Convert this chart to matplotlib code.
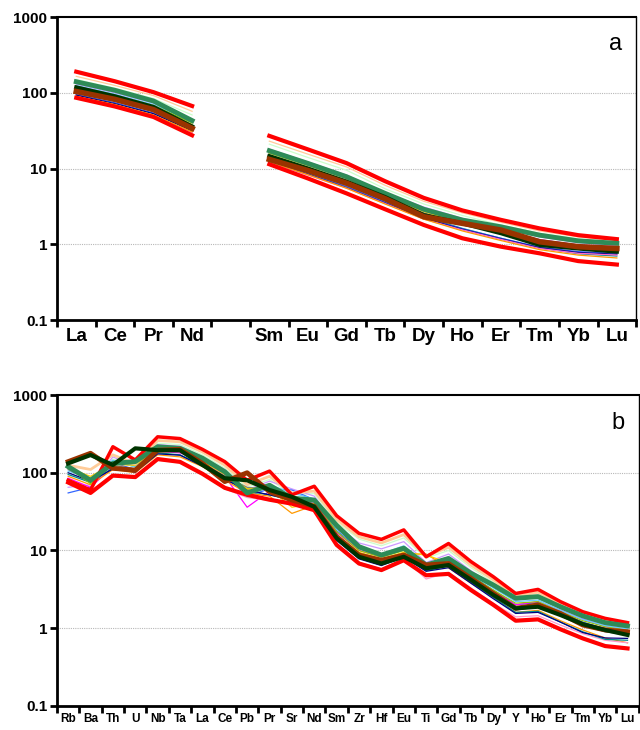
import numpy as np
import matplotlib
matplotlib.use("Agg")
import matplotlib.pyplot as plt

plt.rcParams['font.family'] = ['Liberation Sans', 'DejaVu Sans']

# ---- panel a: chondrite-normalised REE (Pm gap between Nd and Sm)
ree = ['La', 'Ce', 'Pr', 'Nd', 'Pm', 'Sm', 'Eu', 'Gd', 'Tb', 'Dy', 'Ho', 'Er', 'Tm', 'Yb', 'Lu']
ree_labels = ['La', 'Ce', 'Pr', 'Nd', '', 'Sm', 'Eu', 'Gd', 'Tb', 'Dy', 'Ho', 'Er', 'Tm', 'Yb', 'Lu']

# values La..Lu (no Pm)
a_thin = {
    '#FFCC99': [165, 125, 92, 57, 23, 15.5, 10.5, 6.0, 3.7, 2.6, 1.95, 1.5, 1.25, 1.12],
    '#CCFFCC': [150, 115, 84, 51, 21, 14, 9.5, 5.4, 3.4, 2.4, 1.8, 1.4, 1.18, 1.06],
    '#CC99FF': [130, 100, 73, 44, 18, 12.2, 8.2, 4.8, 3.1, 2.2, 1.65, 1.25, 1.05, 0.95],
    '#66CCFF': [125, 96, 70, 42, 17, 11.5, 7.7, 4.5, 2.9, 2.05, 1.55, 1.15, 0.98, 0.9],
    '#99CC00': [122, 93, 68, 40, 16, 11, 7.4, 4.4, 2.8, 2.0, 1.5, 1.12, 0.95, 0.86],
    '#FF00FF': [108, 84, 62, 37, 14.8, 10.3, 7.0, 4.3, 2.75, 2.02, 1.55, 1.15, 0.98, 0.92],
    '#808080': [112, 86, 63, 37, 14.5, 10, 6.6, 4.0, 2.6, 1.85, 1.4, 1.05, 0.9, 0.82],
    '#FFCC00': [115, 88, 64, 38, 15, 10.4, 7, 4.2, 2.7, 1.92, 1.45, 1.08, 0.92, 0.84],
    '#008B8B': [100, 78, 57, 34, 13, 9, 6.1, 3.7, 2.3, 1.62, 1.2, 0.9, 0.75, 0.7],
    '#3366FF': [95, 74, 54, 32, 12.5, 8.6, 5.8, 3.6, 2.25, 1.6, 1.2, 0.92, 0.8, 0.76],
    '#000080': [93, 72, 53, 31.5, 12.2, 8.4, 5.6, 3.5, 2.2, 1.58, 1.18, 0.9, 0.78, 0.74],
    '#FF66CC': [89, 69, 50, 30, 12, 8.2, 5.5, 3.45, 2.15, 1.55, 1.16, 0.88, 0.76, 0.72],
    '#FF9900': [90, 70, 51, 30.5, 12.3, 8.3, 5.5, 3.4, 2.15, 1.5, 1.12, 0.85, 0.72, 0.66],
}
a_red_top = [190, 142, 102, 67, 27, 17.9, 11.8, 6.8, 4.1, 2.8, 2.1, 1.62, 1.32, 1.17]
a_red_bot = [86, 66, 48, 27.5, 11.4, 7.4, 4.7, 2.9, 1.8, 1.2, 0.93, 0.76, 0.6, 0.54]
a_seagreen = [140, 108, 78, 43, 17.2, 11.7, 7.8, 4.7, 2.9, 2.09, 1.7, 1.32, 1.11, 1.03]
a_darkgreen = [118, 90, 65, 36, 14.6, 10, 6.7, 4.2, 2.43, 1.89, 1.4, 0.98, 0.88, 0.8]
a_brown = [104, 82, 60, 34, 13.2, 9.4, 6.4, 4.0, 2.31, 1.89, 1.54, 1.08, 0.93, 0.88]

# ---- panel b: primitive-mantle-normalised spider diagram
spider = ['Rb', 'Ba', 'Th', 'U', 'Nb', 'Ta', 'La', 'Ce', 'Pb', 'Pr', 'Sr', 'Nd', 'Sm',
          'Zr', 'Hf', 'Eu', 'Ti', 'Gd', 'Tb', 'Dy', 'Y', 'Ho', 'Er', 'Tm', 'Yb', 'Lu']

b_thin = {
    '#CCFFCC': [100, 75, 150, 125, 240, 230, 170, 115, 65, 82, 52, 54, 23, 14, 11.5, 14.5, 8, 10, 6, 3.9, 2.5, 2.7, 1.95, 1.5, 1.22, 1.08],
    '#CC99FF': [65, 70, 160, 120, 230, 220, 160, 110, 60, 78, 62, 50, 21, 12.5, 10.5, 13, 7, 9, 5.5, 3.6, 2.3, 2.5, 1.8, 1.35, 1.1, 0.98],
    '#3366FF': [55, 65, 135, 110, 200, 190, 145, 95, 50, 62, 60, 45, 18, 10.5, 8.5, 11, 6, 7.5, 4.8, 3.1, 2.0, 2.15, 1.6, 1.2, 0.98, 0.88],
    '#FF00FF': [85, 65, 120, 100, 190, 180, 140, 90, 36, 58, 45, 42, 17, 10, 8.3, 10.5, 5.9, 7.3, 4.6, 3.0, 2.0, 2.2, 1.7, 1.3, 1.05, 0.95],
    '#FF9900': [90, 70, 110, 100, 170, 160, 120, 80, 55, 50, 30, 38, 14, 8, 6.5, 9, 9, 6, 3.8, 2.5, 1.6, 1.7, 1.25, 0.95, 0.75, 0.65],
    '#FF99CC': [78, 58, 90, 85, 145, 135, 95, 62, 48, 44, 42, 33, 12, 7, 5.8, 7.8, 4.3, 5.2, 3.3, 2.1, 1.4, 1.45, 1.1, 0.85, 0.7, 0.65],
    '#008B8B': [95, 75, 115, 105, 180, 170, 125, 85, 58, 52, 44, 37, 14, 8.3, 6.8, 8.5, 5.5, 6.3, 3.9, 2.5, 1.6, 1.65, 1.2, 0.9, 0.72, 0.7],
    '#000080': [100, 78, 112, 102, 175, 168, 122, 82, 60, 52, 45, 36, 13.5, 7.8, 6.4, 8.2, 5.4, 6.0, 3.8, 2.4, 1.55, 1.6, 1.2, 0.88, 0.75, 0.74],
    '#99CC00': [120, 72, 140, 120, 210, 200, 150, 100, 62, 68, 50, 44, 17.5, 10, 8.2, 10, 6.4, 7.6, 4.7, 3.1, 2.1, 2.2, 1.65, 1.25, 1.05, 0.95],
    '#66CCFF': [105, 85, 145, 118, 220, 210, 155, 102, 58, 70, 55, 46, 19, 11, 9, 11.5, 6.8, 8.2, 5, 3.3, 2.2, 2.3, 1.7, 1.3, 1.08, 0.98],
    '#808080': [110, 80, 125, 112, 190, 185, 135, 90, 65, 60, 50, 40, 15.5, 9, 7.4, 9.2, 6, 6.8, 4.3, 2.8, 1.8, 1.95, 1.45, 1.08, 0.9, 0.82],
    '#FFCC00': [115, 90, 128, 125, 205, 195, 140, 95, 62, 62, 36, 40, 16, 9.5, 7.8, 9.5, 8.7, 7, 4.5, 2.9, 1.9, 2.0, 1.5, 1.12, 0.92, 0.83],
}
b_peach = [125, 110, 170, 130, 260, 250, 185, 125, 70, 90, 55, 58, 25, 15, 12.5, 16, 8.5, 11, 6.5, 4.2, 2.6, 2.9, 2.05, 1.55, 1.28, 1.13]
b_red_top = [80, 60, 216, 146, 290, 275, 200, 139, 80, 105, 52, 67, 28, 16.6, 13.9, 18.4, 8.3, 12.3, 7.2, 4.6, 2.8, 3.16, 2.2, 1.63, 1.34, 1.18]
b_red_bot = [75, 55, 92, 88, 150, 138, 97, 64, 52, 45, 40, 33, 11.8, 6.8, 5.6, 7.5, 4.8, 5.0, 3.1, 2.0, 1.25, 1.3, 0.97, 0.74, 0.59, 0.55]
b_seagreen = [120, 80, 132, 139, 216, 206, 154, 103, 55, 69, 47, 44.6, 21, 11.2, 8.75, 10.7, 6.5, 7.9, 5.1, 3.6, 2.43, 2.55, 1.89, 1.44, 1.18, 1.07]
b_darkgreen = [132, 169, 126, 206, 195, 195, 126, 85, 80, 60, 49, 36.5, 14.4, 8.3, 6.8, 8.3, 5.9, 6.5, 4.2, 2.68, 1.8, 1.89, 1.48, 1.13, 0.95, 0.82]
b_brown = [139, 178, 114, 108, 195, 200, 132, 77, 100, 57, 44.6, 37, 15, 8.75, 7.5, 8.75, 6.5, 6.8, 4.4, 2.81, 1.8, 2.0, 1.55, 1.1, 0.95, 0.9]


def with_gap(vals):
    # insert Pm as a gap
    return vals[:4] + [np.nan] + vals[4:]


def style_axes(ax, n, labels, label_size, letter):
    ax.set_yscale('log')
    ax.set_ylim(0.1, 1000)
    ax.set_xlim(-0.5, n - 0.5)
    ax.set_yticks([0.1, 1, 10, 100, 1000])
    ax.set_yticklabels(['0.1', '1', '10', '100', '1000'])
    ax.yaxis.set_minor_locator(matplotlib.ticker.NullLocator())
    ax.set_xticks(np.arange(n + 1) - 0.5)
    ax.set_xticklabels([])
    ax.set_xticks(np.arange(n), minor=True)
    ax.set_xticklabels(labels, minor=True, fontsize=label_size, fontweight='bold')
    ax.tick_params(axis='x', which='major', direction='out', length=5, width=2)
    ax.tick_params(axis='x', which='minor', length=0, pad=6)
    ax.tick_params(axis='y', which='major', direction='out', length=5, width=2,
                   labelsize=11, pad=2)
    for t in ax.get_yticklabels():
        t.set_fontweight('bold')
    for y in [1, 10, 100]:
        ax.axhline(y, color='#b8b8b8', lw=0.8, ls=(0, (1, 1)), zorder=0)
    ax.spines['left'].set_linewidth(2)
    ax.spines['bottom'].set_linewidth(2)
    ax.spines['top'].set_linewidth(1.5)
    ax.spines['right'].set_linewidth(1)
    ax.text(0.965, 0.91, letter, transform=ax.transAxes, fontsize=17,
            ha='center', va='center')


fig = plt.figure(figsize=(6.4, 7.3), dpi=100)

# panel a
ax1 = fig.add_axes([0.089, 0.5616, 0.905, 0.415])
xa = np.arange(len(ree))
for c, v in a_thin.items():
    ax1.plot(xa, with_gap(v), color=c, lw=0.9)
ax1.plot(xa, with_gap(a_red_top), color='#FF0000', lw=3)
ax1.plot(xa, with_gap(a_red_bot), color='#FF0000', lw=3)
ax1.plot(xa, with_gap(a_seagreen), color='#2E8B57', lw=3.5)
ax1.plot(xa, with_gap(a_darkgreen), color='#003300', lw=3)
ax1.plot(xa, with_gap(a_brown), color='#993300', lw=4)
style_axes(ax1, len(ree), ree_labels, 13.5, 'a')

# panel b
ax2 = fig.add_axes([0.089, 0.0329, 0.909, 0.426])
xb = np.arange(len(spider))
for c, v in b_thin.items():
    ax2.plot(xb, v, color=c, lw=0.9)
ax2.plot(xb, b_peach, color='#FFCC99', lw=2)
ax2.plot(xb, b_red_top, color='#FF0000', lw=2.5)
ax2.plot(xb, b_red_bot, color='#FF0000', lw=3)
ax2.plot(xb, b_seagreen, color='#2E8B57', lw=3.5)
ax2.plot(xb, b_brown, color='#993300', lw=3.5)
ax2.plot(xb, b_darkgreen, color='#003300', lw=3)
style_axes(ax2, len(spider), spider, 8.5, 'b')
ax2.tick_params(axis='x', which='minor', pad=5)

fig.savefig('out.png', dpi=100)
